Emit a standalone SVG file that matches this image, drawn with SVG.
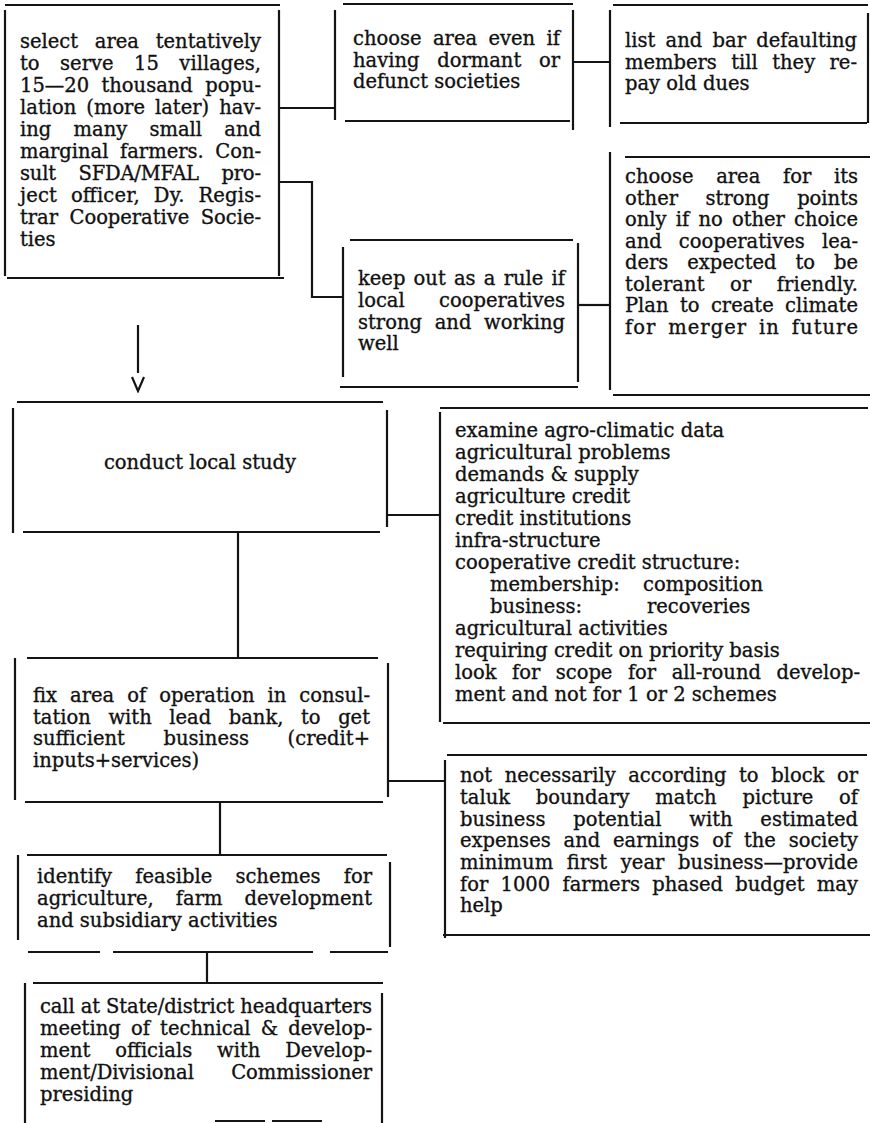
<svg xmlns="http://www.w3.org/2000/svg" width="870" height="1123" viewBox="0 0 870 1123">
<style>
  .bg { fill: #ffffff; }
  .b { fill: none; stroke: #141414; stroke-width: 2.2; stroke-linecap: butt; }
  .c { fill: none; stroke: #141414; stroke-width: 2.2; }
  text { font-family: "DejaVu Serif", "Liberation Serif", serif; font-size: 19.5px; fill: #111111; stroke: #111111; stroke-width: 0.35px; }
</style>
<defs>
  <marker id="vhead" markerUnits="userSpaceOnUse" markerWidth="22" markerHeight="16" viewBox="-2 -8 22 16" refX="0" refY="0" orient="auto">
    <path d="M4,-6 L18,0 L4,6" fill="none" stroke="#141414" stroke-width="2.2"/>
  </marker>
</defs>
<rect class="bg" x="0" y="0" width="870" height="1123"/>

<g id="connectors">
  <path class="c" d="M279,108 H335"/>
  <path class="c" d="M279,182 H312 V297 H343"/>
  <path class="c" d="M573,62 H610"/>
  <path class="c" d="M578,305 H610"/>
  <path class="c" d="M138,325 V373" marker-end="url(#vhead)"/>
  <path class="c" d="M387,515 H440"/>
  <path class="c" d="M238,532 V658"/>
  <path class="c" d="M388,781 H445"/>
  <path class="c" d="M220,802 V855"/>
  <path class="c" d="M207,952 V983"/>
</g>

<g id="select-area">
  <path class="b" d="M5,5 H280 M5,10 V276 M279,10 V276 M7,278 H284"/>
  <text x="20" y="48" word-spacing="10.6" textLength="241" lengthAdjust="spacing">select area tentatively</text>
  <text x="20" y="70" word-spacing="14.3" textLength="241" lengthAdjust="spacing">to serve 15 villages,</text>
  <text x="20" y="92" word-spacing="6.1" textLength="241" lengthAdjust="spacing">15—20 thousand popu-</text>
  <text x="20" y="114" word-spacing="3.8" textLength="241" lengthAdjust="spacing">lation (more later) hav-</text>
  <text x="20" y="136" word-spacing="16" textLength="241" lengthAdjust="spacing">ing many small and</text>
  <text x="20" y="158" word-spacing="5.5" textLength="241" lengthAdjust="spacing">marginal farmers. Con-</text>
  <text x="20" y="180" word-spacing="16.7" textLength="241" lengthAdjust="spacing">sult SFDA/MFAL pro-</text>
  <text x="20" y="202" word-spacing="7.4" textLength="241" lengthAdjust="spacing">ject officer, Dy. Regis-</text>
  <text x="20" y="224" word-spacing="5.4" textLength="241" lengthAdjust="spacing">trar Cooperative Socie-</text>
  <text x="20" y="246">ties</text>
</g>

<g id="dormant-societies">
  <path class="b" d="M343,4 H573 M335,10 V120 M573,10 V130 M345,121 H570"/>
  <text x="353" y="45" word-spacing="5.2" textLength="207" lengthAdjust="spacing">choose area even if</text>
  <text x="353" y="66.5" word-spacing="11.5" textLength="207" lengthAdjust="spacing">having dormant or</text>
  <text x="353" y="88">defunct societies</text>
</g>

<g id="bar-defaulters">
  <path class="b" d="M613,5 H868 M610,10 V127 M868,13 V123 M620,123 H867"/>
  <text x="625" y="47" word-spacing="4.1" textLength="232" lengthAdjust="spacing">list and bar defaulting</text>
  <text x="625" y="68.5" word-spacing="8.2" textLength="232" lengthAdjust="spacing">members till they re-</text>
  <text x="625" y="90">pay old dues</text>
</g>

<g id="strong-points">
  <path class="b" d="M625,157 H870 M610,152 V390 M613,395 H870"/>
  <text x="625" y="183" word-spacing="16.5" textLength="233" lengthAdjust="spacing">choose area for its</text>
  <text x="625" y="204.5" word-spacing="21.4" textLength="233" lengthAdjust="spacing">other strong points</text>
  <text x="625" y="226" word-spacing="3" textLength="233" lengthAdjust="spacing">only if no other choice</text>
  <text x="625" y="247.5" word-spacing="11" textLength="233" lengthAdjust="spacing">and cooperatives lea-</text>
  <text x="625" y="269" word-spacing="12.7" textLength="233" lengthAdjust="spacing">ders expected to be</text>
  <text x="625" y="290.5" word-spacing="19" textLength="233" lengthAdjust="spacing">tolerant or friendly.</text>
  <text x="625" y="312" word-spacing="5.2" textLength="233" lengthAdjust="spacing">Plan to create climate</text>
  <text x="625" y="333.5" word-spacing="4.7" textLength="233" lengthAdjust="spacing">for merger in future</text>
</g>

<g id="keep-out">
  <path class="b" d="M350,240 H573 M343,247 V377 M578,243 V382 M340,387 H578"/>
  <text x="358" y="285" word-spacing="2" textLength="207" lengthAdjust="spacing">keep out as a rule if</text>
  <text x="358" y="307" word-spacing="28.2" textLength="207" lengthAdjust="spacing">local cooperatives</text>
  <text x="358" y="328.5" word-spacing="6.5" textLength="207" lengthAdjust="spacing">strong and working</text>
  <text x="358" y="350">well</text>
</g>

<g id="local-study">
  <path class="b" d="M17,402 H383 M13,408 V533 M387,410 V527 M23,532 H380"/>
  <text x="200" y="469" text-anchor="middle">conduct local study</text>
</g>

<g id="examine-data">
  <path class="b" d="M440,408 H868 M440,412 V722 M443,723 H870"/>
  <text x="455" y="437">examine agro-climatic data</text>
  <text x="455" y="459">agricultural problems</text>
  <text x="455" y="481">demands &amp; supply</text>
  <text x="455" y="503">agriculture credit</text>
  <text x="455" y="525">credit institutions</text>
  <text x="455" y="547">infra-structure</text>
  <text x="455" y="569">cooperative credit structure:</text>
  <text y="591"><tspan x="490">membership:</tspan><tspan x="643">composition</tspan></text>
  <text y="613"><tspan x="490">business:</tspan><tspan x="647">recoveries</tspan></text>
  <text x="455" y="635">agricultural activities</text>
  <text x="455" y="657">requiring credit on priority basis</text>
  <text x="455" y="679" word-spacing="9.3" textLength="405" lengthAdjust="spacing">look for scope for all-round develop-</text>
  <text x="455" y="701">ment and not for 1 or 2 schemes</text>
</g>

<g id="fix-area">
  <path class="b" d="M27,658 H378 M15,658 V800 M388,663 V797 M25,802 H383"/>
  <text x="33" y="702" word-spacing="6.8" textLength="337" lengthAdjust="spacing">fix area of operation in consul-</text>
  <text x="33" y="723.5" word-spacing="11.4" textLength="337" lengthAdjust="spacing">tation with lead bank, to get</text>
  <text x="33" y="745" word-spacing="32.3" textLength="337" lengthAdjust="spacing">sufficient business (credit+</text>
  <text x="33" y="766.5">inputs+services)</text>
</g>

<g id="boundary-note">
  <path class="b" d="M447,755 H867 M445,760 V938 M443,935 H870"/>
  <text x="460" y="782" word-spacing="6.4" textLength="398" lengthAdjust="spacing">not necessarily according to block or</text>
  <text x="460" y="804" word-spacing="19.6" textLength="398" lengthAdjust="spacing">taluk boundary match picture of</text>
  <text x="460" y="825.5" word-spacing="21.6" textLength="398" lengthAdjust="spacing">business potential with estimated</text>
  <text x="460" y="847" word-spacing="6.6" textLength="398" lengthAdjust="spacing">expenses and earnings of the society</text>
  <text x="460" y="869" word-spacing="7.5" textLength="398" lengthAdjust="spacing">minimum first year business—provide</text>
  <text x="460" y="890.5" word-spacing="6.1" textLength="398" lengthAdjust="spacing">for 1000 farmers phased budget may</text>
  <text x="460" y="912">help</text>
</g>

<g id="feasible-schemes">
  <path class="b" d="M27,855 H387 M18,855 V940 M390,862 V947 M28,952 H100 M113,952 H313 M330,952 H388"/>
  <text x="37" y="883" word-spacing="17" textLength="335" lengthAdjust="spacing">identify feasible schemes for</text>
  <text x="37" y="905" word-spacing="15.9" textLength="335" lengthAdjust="spacing">agriculture, farm development</text>
  <text x="37" y="927">and subsidiary activities</text>
</g>

<g id="hq-meeting">
  <path class="b" d="M33,983 H383 M25,983 V1123 M382,993 V1123 M215,1121 H265 M272,1121 H322"/>
  <text x="40" y="1013" textLength="332" lengthAdjust="spacing">call at State/district headquarters</text>
  <text x="40" y="1035" word-spacing="4" textLength="332" lengthAdjust="spacing">meeting of technical &amp; develop-</text>
  <text x="40" y="1057" word-spacing="18.7" textLength="332" lengthAdjust="spacing">ment officials with Develop-</text>
  <text x="40" y="1079" word-spacing="31.2" textLength="332" lengthAdjust="spacing">ment/Divisional Commissioner</text>
  <text x="40" y="1101">presiding</text>
</g>
</svg>
